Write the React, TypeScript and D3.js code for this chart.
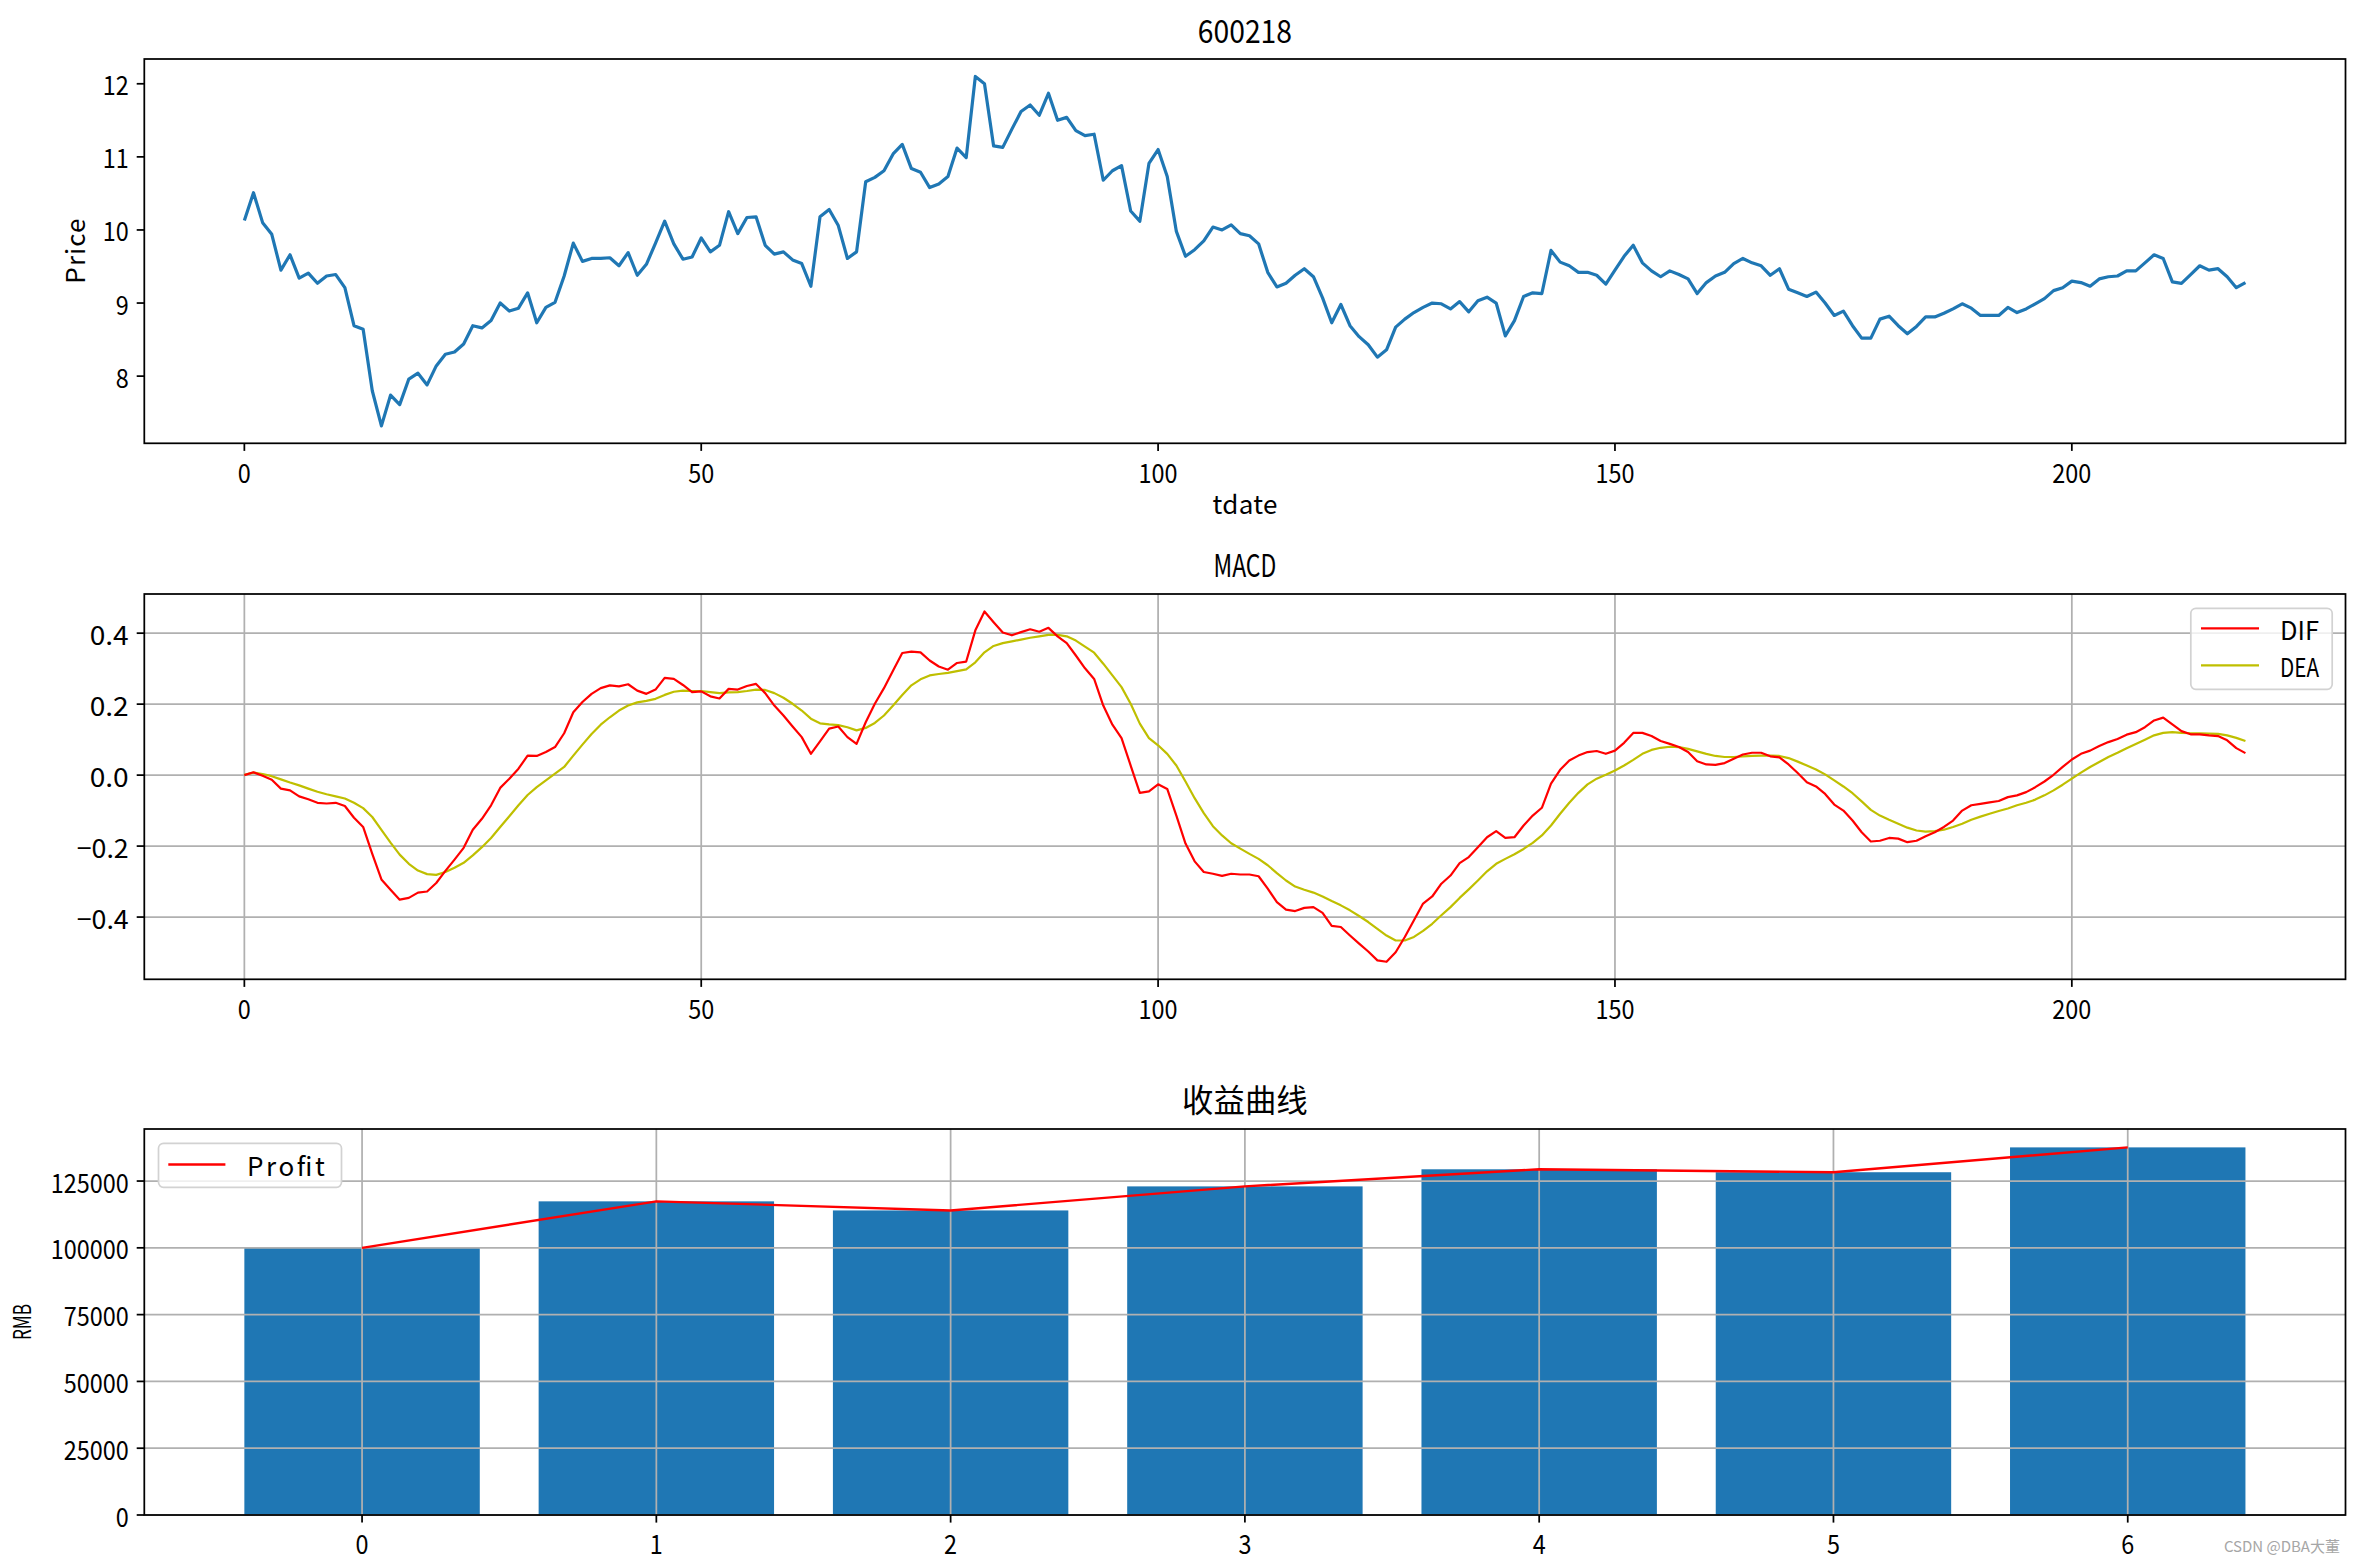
import React from 'react';
import * as d3 from 'd3';

// ---------------- DATA ----------------
const priceValues = [
  10.13, 10.51, 10.10, 9.94, 9.45, 9.66, 9.34, 9.41, 9.27, 9.37,
  9.39, 9.21, 8.69, 8.64, 7.80, 7.32, 7.74, 7.61, 7.96, 8.04,
  7.88, 8.14, 8.30, 8.33, 8.44, 8.69, 8.66, 8.76, 9.00, 8.89,
  8.93, 9.14, 8.73, 8.94, 9.01, 9.37, 9.82, 9.57, 9.61, 9.61,
  9.62, 9.51, 9.69, 9.38, 9.53, 9.82, 10.12, 9.81, 9.60, 9.63,
  9.89, 9.70, 9.79, 10.25, 9.95, 10.17, 10.18, 9.79, 9.67, 9.70,
  9.59, 9.54, 9.23, 10.18, 10.28, 10.06, 9.61, 9.70, 10.66, 10.72,
  10.81, 11.04, 11.17, 10.84, 10.79, 10.58, 10.63, 10.73, 11.12, 10.99,
  12.10, 12.00, 11.15, 11.13, 11.38, 11.62, 11.71, 11.57, 11.87, 11.50,
  11.54, 11.36, 11.29, 11.31, 10.68, 10.81, 10.88, 10.26, 10.12, 10.91,
  11.10, 10.73, 9.98, 9.64, 9.73, 9.85, 10.04, 10.00, 10.07, 9.95,
  9.92, 9.81, 9.42, 9.22, 9.27, 9.38, 9.47, 9.36, 9.07, 8.73,
  8.98, 8.69, 8.54, 8.43, 8.26, 8.36, 8.67, 8.78, 8.87, 8.94,
  9.00, 8.99, 8.92, 9.02, 8.88, 9.03, 9.08, 9.00, 8.55, 8.76,
  9.09, 9.14, 9.13, 9.72, 9.56, 9.51, 9.42, 9.42, 9.38, 9.26,
  9.45, 9.64, 9.79, 9.55, 9.44, 9.36, 9.44, 9.39, 9.33, 9.13,
  9.28, 9.37, 9.42, 9.54, 9.61, 9.55, 9.51, 9.38, 9.47, 9.19,
  9.14, 9.09, 9.15, 9.00, 8.83, 8.89, 8.69, 8.52, 8.52, 8.78,
  8.82, 8.69, 8.58, 8.68, 8.81, 8.81, 8.86, 8.92, 8.99, 8.93,
  8.83, 8.83, 8.83, 8.94, 8.87, 8.92, 8.99, 9.06, 9.17, 9.21,
  9.30, 9.28, 9.23, 9.33, 9.36, 9.37, 9.44, 9.44, 9.55, 9.66,
  9.61, 9.29, 9.27, 9.39, 9.51, 9.45, 9.47, 9.36, 9.21, 9.28,
];

const difValues = [
  0.000, 0.008, -0.002, -0.013, -0.038, -0.043, -0.060, -0.068, -0.078, -0.080,
  -0.078, -0.087, -0.120, -0.146, -0.222, -0.294, -0.323, -0.351, -0.346, -0.331,
  -0.328, -0.304, -0.270, -0.238, -0.205, -0.154, -0.123, -0.085, -0.036, -0.010,
  0.018, 0.055, 0.054, 0.065, 0.079, 0.118, 0.177, 0.206, 0.229, 0.245,
  0.253, 0.250, 0.256, 0.238, 0.229, 0.241, 0.274, 0.271, 0.254, 0.234,
  0.236, 0.222, 0.216, 0.243, 0.241, 0.251, 0.257, 0.231, 0.196, 0.168,
  0.137, 0.107, 0.060, 0.095, 0.131, 0.137, 0.107, 0.088, 0.149, 0.201,
  0.245, 0.295, 0.344, 0.348, 0.346, 0.323, 0.306, 0.297, 0.316, 0.320,
  0.408, 0.461, 0.431, 0.402, 0.394, 0.403, 0.411, 0.404, 0.415, 0.391,
  0.372, 0.337, 0.301, 0.271, 0.196, 0.142, 0.104, 0.027, -0.050, -0.046,
  -0.026, -0.039, -0.114, -0.193, -0.243, -0.273, -0.278, -0.284, -0.278, -0.280,
  -0.280, -0.285, -0.320, -0.358, -0.379, -0.383, -0.374, -0.372, -0.388, -0.425,
  -0.428, -0.452, -0.475, -0.497, -0.522, -0.526, -0.499, -0.456, -0.409, -0.362,
  -0.342, -0.306, -0.283, -0.248, -0.231, -0.203, -0.175, -0.158, -0.177, -0.175,
  -0.142, -0.114, -0.092, -0.024, 0.015, 0.041, 0.055, 0.065, 0.068, 0.060,
  0.069, 0.091, 0.119, 0.119, 0.110, 0.096, 0.088, 0.079, 0.065, 0.039,
  0.030, 0.029, 0.034, 0.046, 0.058, 0.063, 0.063, 0.053, 0.050, 0.030,
  0.006, -0.020, -0.032, -0.053, -0.083, -0.100, -0.128, -0.161, -0.187, -0.185,
  -0.177, -0.179, -0.189, -0.185, -0.172, -0.161, -0.146, -0.128, -0.100, -0.085,
  -0.081, -0.077, -0.073, -0.062, -0.057, -0.048, -0.034, -0.018, 0.001, 0.023,
  0.044, 0.060, 0.069, 0.082, 0.093, 0.102, 0.114, 0.121, 0.135, 0.154,
  0.162, 0.143, 0.124, 0.115, 0.115, 0.112, 0.110, 0.098, 0.076, 0.062,
];

const deaValues = [
  0.001, 0.007, 0.003, -0.003, -0.012, -0.021, -0.029, -0.038, -0.047, -0.054,
  -0.060, -0.066, -0.078, -0.093, -0.118, -0.154, -0.190, -0.224, -0.250, -0.269,
  -0.279, -0.281, -0.273, -0.261, -0.247, -0.226, -0.203, -0.177, -0.146, -0.116,
  -0.085, -0.056, -0.034, -0.015, 0.004, 0.023, 0.055, 0.086, 0.116, 0.142,
  0.163, 0.182, 0.196, 0.205, 0.209, 0.215, 0.226, 0.235, 0.238, 0.237,
  0.237, 0.234, 0.231, 0.233, 0.234, 0.237, 0.241, 0.240, 0.231, 0.218,
  0.201, 0.182, 0.159, 0.146, 0.143, 0.141, 0.135, 0.126, 0.133, 0.147,
  0.168, 0.196, 0.226, 0.253, 0.270, 0.281, 0.285, 0.288, 0.293, 0.298,
  0.318, 0.346, 0.364, 0.372, 0.377, 0.382, 0.387, 0.391, 0.395, 0.395,
  0.391, 0.379, 0.362, 0.345, 0.314, 0.281, 0.248, 0.201, 0.145, 0.104,
  0.084, 0.060, 0.027, -0.018, -0.065, -0.107, -0.144, -0.170, -0.192, -0.207,
  -0.222, -0.236, -0.254, -0.276, -0.297, -0.314, -0.323, -0.331, -0.342, -0.355,
  -0.367, -0.381, -0.397, -0.414, -0.433, -0.452, -0.466, -0.466, -0.456, -0.439,
  -0.419, -0.395, -0.372, -0.346, -0.322, -0.297, -0.271, -0.250, -0.236, -0.223,
  -0.208, -0.191, -0.170, -0.142, -0.109, -0.078, -0.050, -0.026, -0.010, 0.001,
  0.013, 0.027, 0.043, 0.060, 0.071, 0.077, 0.080, 0.079, 0.074, 0.067,
  0.060, 0.054, 0.051, 0.051, 0.053, 0.054, 0.055, 0.055, 0.054, 0.048,
  0.038, 0.027, 0.016, 0.002, -0.015, -0.032, -0.051, -0.074, -0.098, -0.114,
  -0.126, -0.137, -0.148, -0.156, -0.159, -0.158, -0.154, -0.146, -0.137, -0.126,
  -0.117, -0.109, -0.101, -0.094, -0.085, -0.078, -0.069, -0.057, -0.043, -0.027,
  -0.010, 0.007, 0.023, 0.037, 0.051, 0.063, 0.076, 0.088, 0.100, 0.112,
  0.119, 0.121, 0.119, 0.118, 0.118, 0.117, 0.116, 0.112, 0.105, 0.096,
];

const profitCategories = [0, 1, 2, 3, 4, 5, 6];
const profitValues = [100000, 117400, 114000, 123000, 129400, 128300, 137600];

const priceXTicks = [0, 50, 100, 150, 200];
const priceYTicks = [8, 9, 10, 11, 12];
const macdYTicks = [-0.4, -0.2, 0.0, 0.2, 0.4];
const profitYTicks = [0, 25000, 50000, 75000, 100000, 125000];

const titles = { price: '600218', macd: 'MACD', profit: '收益曲线' };
const labels = { tdate: 'tdate', price: 'Price', rmb: 'RMB' };
const legendMacd = ['DIF', 'DEA'];
const legendProfit = ['Profit'];

// ---------------- LAYOUT ----------------
const W = 2356;
const H = 1562;
const L = 144.3;
const R = 2345.5;
const P1 = { top: 59, bottom: 443.3 };
const P2 = { top: 594, bottom: 979.3 };
const P3 = { top: 1129, bottom: 1515 };
const FONT = "'Noto Sans CJK SC', 'Noto Sans', sans-serif";
const FS = 26;
const TFS = 31.4;
const TICK = 7.6;
const AXW = 1.75;
const GRID = '#b0b0b0';
const C0 = '#1f77b4';

function fmtMinus(s: string) {
  return s.replace('-', '\u2212');
}

function textWidth(s: string, fs: number) {
  let n = 0;
  for (const c of s) n += c.charCodeAt(0) > 0x2e80 ? 1 : 0.5;
  return n * fs;
}

function MText(props: any) {
  const { x, y, s, fs = FS, anchor = 'middle', adj = 'spacingAndGlyphs', baseline, transform, fill = '#000' } = props;
  return (
    <text
      x={x}
      y={y}
      fontFamily={FONT}
      fontSize={fs}
      textAnchor={anchor}
      dominantBaseline={baseline}
      textLength={textWidth(s, fs)}
      lengthAdjust={adj}
      transform={transform}
      fill={fill}
    >
      {s}
    </text>
  );
}

function Frame({ top, bottom }: { top: number; bottom: number }) {
  return (
    <rect x={L} y={top} width={R - L} height={bottom - top} fill="none" stroke="#000" strokeWidth={AXW} />
  );
}

export default function App() {
  const idx = priceValues.map((_, i) => i);
  const n = priceValues.length;
  const xPad = (n - 1) * 0.05;
  const x = d3.scaleLinear().domain([-xPad, n - 1 + xPad]).range([L, R]);

  const [pMin, pMax] = d3.extent(priceValues) as [number, number];
  const pPad = (pMax - pMin) * 0.05;
  const yP = d3.scaleLinear().domain([pMin - pPad, pMax + pPad]).range([P1.bottom, P1.top]);

  const mAll = difValues.concat(deaValues);
  const [mMin, mMax] = d3.extent(mAll) as [number, number];
  const mPad = (mMax - mMin) * 0.05;
  const yM = d3.scaleLinear().domain([mMin - mPad, mMax + mPad]).range([P2.bottom, P2.top]);

  const bw = 0.8;
  const bLo = profitCategories[0] - bw / 2;
  const bHi = profitCategories[profitCategories.length - 1] + bw / 2;
  const bPad = (bHi - bLo) * 0.05;
  const xB = d3.scaleLinear().domain([bLo - bPad, bHi + bPad]).range([L, R]);
  const yB = d3.scaleLinear().domain([0, (d3.max(profitValues) as number) * 1.05]).range([P3.bottom, P3.top]);

  const linePrice = d3.line<number>().x((i) => x(i)).y((i) => yP(priceValues[i]))(idx) as string;
  const lineDif = d3.line<number>().x((i) => x(i)).y((i) => yM(difValues[i]))(idx) as string;
  const lineDea = d3.line<number>().x((i) => x(i)).y((i) => yM(deaValues[i]))(idx) as string;
  const lineProfit = d3
    .line<number>()
    .x((_, i) => xB(profitCategories[i]))
    .y((v) => yB(v))(profitValues) as string;

  const fmt1 = d3.format('.1f');
  const cx = (L + R) / 2;

  return (
    <svg
      width={W}
      height={H}
      viewBox={`0 0 ${W} ${H}`}
      style={{ position: 'absolute', left: 0, top: 0, background: '#fff' }}
    >
      <rect x={0} y={0} width={W} height={H} fill="#fff" />

      {/* ---------- Price panel ---------- */}
      <MText x={cx} y={43} s={titles.price} fs={TFS} />
      <path d={linePrice} fill="none" stroke={C0} strokeWidth={3.2} strokeLinejoin="round" />
      <Frame {...P1} />
      {priceXTicks.map((t) => (
        <g key={'px' + t}>
          <line x1={x(t)} x2={x(t)} y1={P1.bottom} y2={P1.bottom + TICK} stroke="#000" strokeWidth={AXW} />
          <MText x={x(t)} y={P1.bottom + 40} s={String(t)} />
        </g>
      ))}
      {priceYTicks.map((t) => (
        <g key={'py' + t}>
          <line x1={L - TICK} x2={L} y1={yP(t)} y2={yP(t)} stroke="#000" strokeWidth={AXW} />
          <MText x={L - TICK - 8} y={yP(t)} s={String(t)} anchor="end" baseline="central" />
        </g>
      ))}
      <MText x={cx} y={514} s={labels.tdate} adj="spacing" />
      <MText
        x={0}
        y={0}
        s={labels.price}
        adj="spacing"
        transform={`translate(85,${(P1.top + P1.bottom) / 2}) rotate(-90)`}
      />

      {/* ---------- MACD panel ---------- */}
      <MText x={cx} y={577} s={titles.macd} fs={TFS} />
      {priceXTicks.map((t) => (
        <line key={'mgx' + t} x1={x(t)} x2={x(t)} y1={P2.top} y2={P2.bottom} stroke={GRID} strokeWidth={AXW} />
      ))}
      {macdYTicks.map((t) => (
        <line key={'mgy' + t} x1={L} x2={R} y1={yM(t)} y2={yM(t)} stroke={GRID} strokeWidth={AXW} />
      ))}
      <path d={lineDea} fill="none" stroke="#bfbf00" strokeWidth={2.2} strokeLinejoin="round" />
      <path d={lineDif} fill="none" stroke="#ff0000" strokeWidth={2.2} strokeLinejoin="round" />
      <Frame {...P2} />
      {priceXTicks.map((t) => (
        <g key={'mx' + t}>
          <line x1={x(t)} x2={x(t)} y1={P2.bottom} y2={P2.bottom + TICK} stroke="#000" strokeWidth={AXW} />
          <MText x={x(t)} y={P2.bottom + 40} s={String(t)} />
        </g>
      ))}
      {macdYTicks.map((t) => (
        <g key={'my' + t}>
          <line x1={L - TICK} x2={L} y1={yM(t)} y2={yM(t)} stroke="#000" strokeWidth={AXW} />
          <MText x={L - TICK - 8} y={yM(t)} s={fmtMinus(fmt1(t))} anchor="end" baseline="central" />
        </g>
      ))}
      {/* legend */}
      <rect x={2190.8} y={608.3} width={141.4} height={81} rx={5} fill="#fff" fillOpacity={0.8} stroke="#d2d2d2" strokeWidth={1.7} />
      {legendMacd.map((name, i) => {
        const ly = 628.3 + i * 37;
        return (
          <g key={name}>
            <line x1={2201} x2={2259} y1={ly} y2={ly} stroke={i === 0 ? '#ff0000' : '#bfbf00'} strokeWidth={2.2} />
            <MText x={2280} y={ly} s={name} anchor="start" baseline="central" />
          </g>
        );
      })}

      {/* ---------- Profit panel ---------- */}
      <MText x={cx} y={1112} s={titles.profit} fs={TFS} />
      {profitValues.map((v, i) => (
        <rect
          key={'bar' + i}
          x={xB(profitCategories[i] - bw / 2)}
          y={yB(v)}
          width={xB(profitCategories[i] + bw / 2) - xB(profitCategories[i] - bw / 2)}
          height={yB(0) - yB(v)}
          fill={C0}
        />
      ))}
      {profitCategories.map((t) => (
        <line key={'bgx' + t} x1={xB(t)} x2={xB(t)} y1={P3.top} y2={P3.bottom} stroke={GRID} strokeWidth={AXW} />
      ))}
      {profitYTicks.map((t) => (
        <line key={'bgy' + t} x1={L} x2={R} y1={yB(t)} y2={yB(t)} stroke={GRID} strokeWidth={AXW} />
      ))}
      <path d={lineProfit} fill="none" stroke="#ff0000" strokeWidth={2.4} strokeLinejoin="round" />
      <Frame {...P3} />
      {profitCategories.map((t) => (
        <g key={'bx' + t}>
          <line x1={xB(t)} x2={xB(t)} y1={P3.bottom} y2={P3.bottom + TICK} stroke="#000" strokeWidth={AXW} />
          <MText x={xB(t)} y={P3.bottom + 39} s={String(t)} />
        </g>
      ))}
      {profitYTicks.map((t) => (
        <g key={'by' + t}>
          <line x1={L - TICK} x2={L} y1={yB(t)} y2={yB(t)} stroke="#000" strokeWidth={AXW} />
          <MText x={L - TICK - 8} y={yB(t)} s={String(t)} anchor="end" baseline="central" />
        </g>
      ))}
      <MText
        x={0}
        y={0}
        s={labels.rmb}
        fs={24}
        transform={`translate(31,${(P3.top + P3.bottom) / 2}) rotate(-90)`}
      />
      {/* legend */}
      <rect x={158.5} y={1143.3} width={183} height={44} rx={5} fill="#fff" fillOpacity={0.8} stroke="#d2d2d2" strokeWidth={1.7} />
      {legendProfit.map((name) => (
        <g key={name}>
          <line x1={168.3} x2={225.4} y1={1164.5} y2={1164.5} stroke="#ff0000" strokeWidth={2.4} />
          <MText x={246.9} y={1164.5} s={name} anchor="start" baseline="central" adj="spacing" />
        </g>
      ))}

      {/* watermark */}
      <text x={2340} y={1552} fontFamily={FONT} fontSize={15} fill="#a6a6a6" textAnchor="end">
        CSDN @DBA大董
      </text>
    </svg>
  );
}
